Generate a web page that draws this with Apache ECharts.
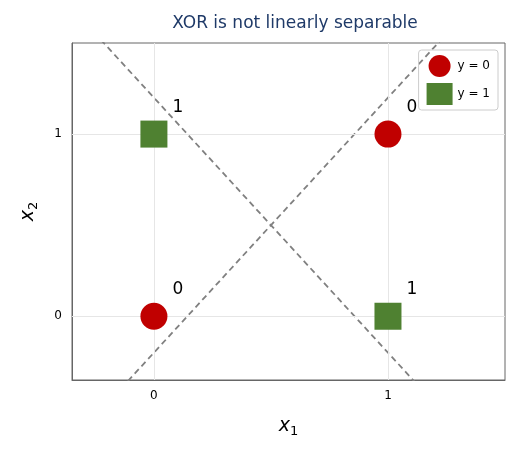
<!DOCTYPE html><html><head><meta charset="utf-8"><script src="https://cdn.jsdelivr.net/npm/echarts@6/dist/echarts.min.js"></script></head><body style="margin:0"><div id="c" style="width:520px;height:460px"></div><script>
const class0 = [[0,0],[1,1]];
const class1 = [[0,1],[1,0]];
const line1 = [[-0.4,1.76],[1.4,-0.76]];
const line2 = [[-0.4,-0.76],[1.4,1.76]];
const ticks = [0,1];
const ch = echarts.init(document.getElementById('c'));
const ff = 'DejaVu Sans';
const isTick = v => ticks.some(t => Math.abs(v - t) < 1e-6);
const lab = {fontFamily:ff,fontSize:12,color:'#000',margin:10,formatter:v=>isTick(v)?String(Math.round(v)):''};
const ax = (name, min, max, rich, gap) => ({type:'value',min:min,max:max,interval:0.05,name:name,nameLocation:'middle',nameGap:gap,
  nameTextStyle:{fontFamily:ff,fontSize:18,color:'#000',rich:rich},
  axisLine:{show:true,onZero:false,lineStyle:{color:'#666'}},axisTick:{show:false},splitLine:{show:false},axisLabel:lab});
const grid = {color:'#e6e6e6',width:1,type:'solid'};
const rich = {a:{fontFamily:ff,fontSize:19,fontStyle:'italic',color:'#000'},s:{fontFamily:ff,fontSize:13,color:'#000',padding:[10,0,0,0]}};
ch.setOption({
  animation:false,
  title:{text:'XOR is not linearly separable',left:290,top:10,textAlign:'center',textStyle:{fontFamily:ff,fontSize:17,fontWeight:'normal',color:'#1f3a68'}},
  grid:{left:72,right:15,top:43,bottom:80,show:true,borderColor:'#666',borderWidth:1},
  legend:{right:22,top:50,orient:'vertical',itemGap:6,itemWidth:26,itemHeight:22,borderColor:'#ccc',borderWidth:1,borderRadius:3,padding:[5,8],
    textStyle:{fontFamily:ff,fontSize:12,color:'#000'},data:['y = 0','y = 1']},
  xAxis:ax('{a|x}{s|1}',-0.35,1.5,rich,35),
  yAxis:ax('{a|x}{s|2}',-0.35,1.5,rich,32),
  series:[
    {type:'line',data:[],silent:true,z:0,
      markLine:{silent:true,symbol:'none',label:{show:false},lineStyle:grid,data:ticks.map(t=>({xAxis:t})).concat(ticks.map(t=>({yAxis:t})))}},
    {type:'line',data:line1,symbol:'none',clip:true,lineStyle:{color:'#808080',type:[6,4],width:1.8},silent:true,z:1},
    {type:'line',data:line2,symbol:'none',clip:true,lineStyle:{color:'#808080',type:[6,4],width:1.8},silent:true,z:1},
    {name:'y = 0',type:'scatter',data:class0,symbol:'circle',symbolSize:27,itemStyle:{color:'#c00000',opacity:1},z:5,
      label:{show:true,formatter:'0',position:[32,-22],fontFamily:ff,fontSize:17,color:'#000'}},
    {name:'y = 1',type:'scatter',data:class1,symbol:'rect',symbolSize:27,itemStyle:{color:'#4f8131',opacity:1},z:5,
      label:{show:true,formatter:'1',position:[32,-22],fontFamily:ff,fontSize:17,color:'#000'}}
  ]
});
</script></body></html>
